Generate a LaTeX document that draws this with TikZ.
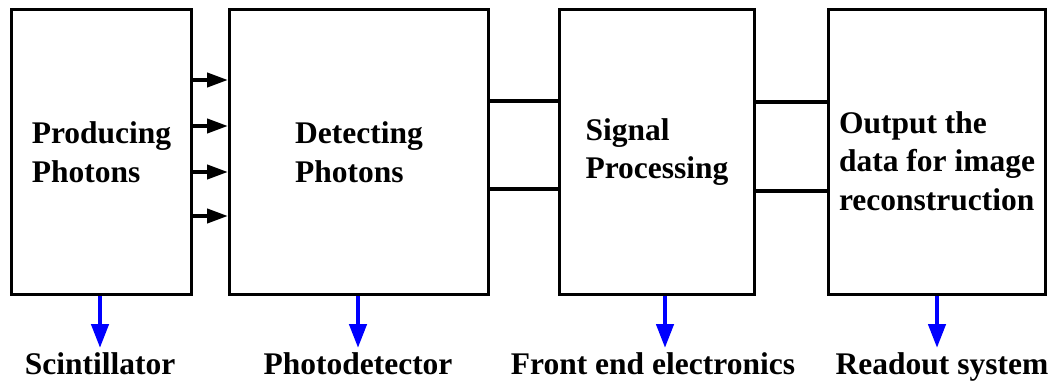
\documentclass[tikz,border=0pt]{standalone}
\usepackage{fontspec}
\setmainfont{Liberation Serif}
\usetikzlibrary{positioning,arrows.meta}
\tikzset{
  blk/.style={draw,rectangle,line width=3pt,minimum height=285pt,align=left,font=\bfseries\fontsize{31.5}{38.5}\selectfont,inner sep=0pt},
  ph/.style={-{Triangle[length=21pt,width=14pt]},line width=4pt},
  wire/.style={line width=4pt},
  down/.style={-{Triangle[length=24pt,width=17pt]},line width=4.5pt,blue},
  lbl/.style={font=\bfseries\fontsize{31.5}{38.5}\selectfont,inner sep=0pt,anchor=base},
}

\begin{document}
\begin{tikzpicture}[x=1pt,y=1pt]
\useasboundingbox (0,0) rectangle (1060,381);
% the four stages
\node[blk,minimum width=180pt] (prod) at (101.5,229) {Producing\\Photons};
\node[blk,minimum width=259pt] (det) at (359,229) {Detecting\\Photons};
\node[blk,minimum width=195pt] (sig) at (657,229) {Signal\\Processing};
\node[blk,minimum width=217pt] (out) at (937,229) {};
\node[blk,draw=none,minimum height=0pt] (outtxt) at (937,220) {Output the\\data for image\\reconstruction};
% photons into the detector
\foreach \dy in {72,26,-20,-64}
  \draw[ph] ([yshift=\dy pt]prod.east) -- ([yshift=\dy pt]det.west);
% signal wires
\foreach \dy in {51,-37}
  \draw[wire] ([yshift=\dy pt]det.east) -- ([yshift=\dy pt]sig.west);
\foreach \dy in {50,-39}
  \draw[wire] ([yshift=\dy pt]sig.east) -- ([yshift=\dy pt]out.west);
% hardware below each stage
\coordinate (t1) at (100,33);
\coordinate (t2) at (358,33);
\coordinate (t3) at (665,33);
\coordinate (t4) at (937,33);
\draw[down] (prod.south -| t1) -- (t1);
\draw[down] (det.south -| t2) -- (t2);
\draw[down] (sig.south -| t3) -- (t3);
\draw[down] (out.south -| t4) -- (t4);
\node[lbl] (l1) at (100,7) {Scintillator};
\node[lbl] (l2) at (358,7) {Photodetector};
\node[lbl] (l3) at (653,7) {Front end electronics};
\node[lbl] (l4) at (942,7) {Readout system};
\end{tikzpicture}
\end{document}
